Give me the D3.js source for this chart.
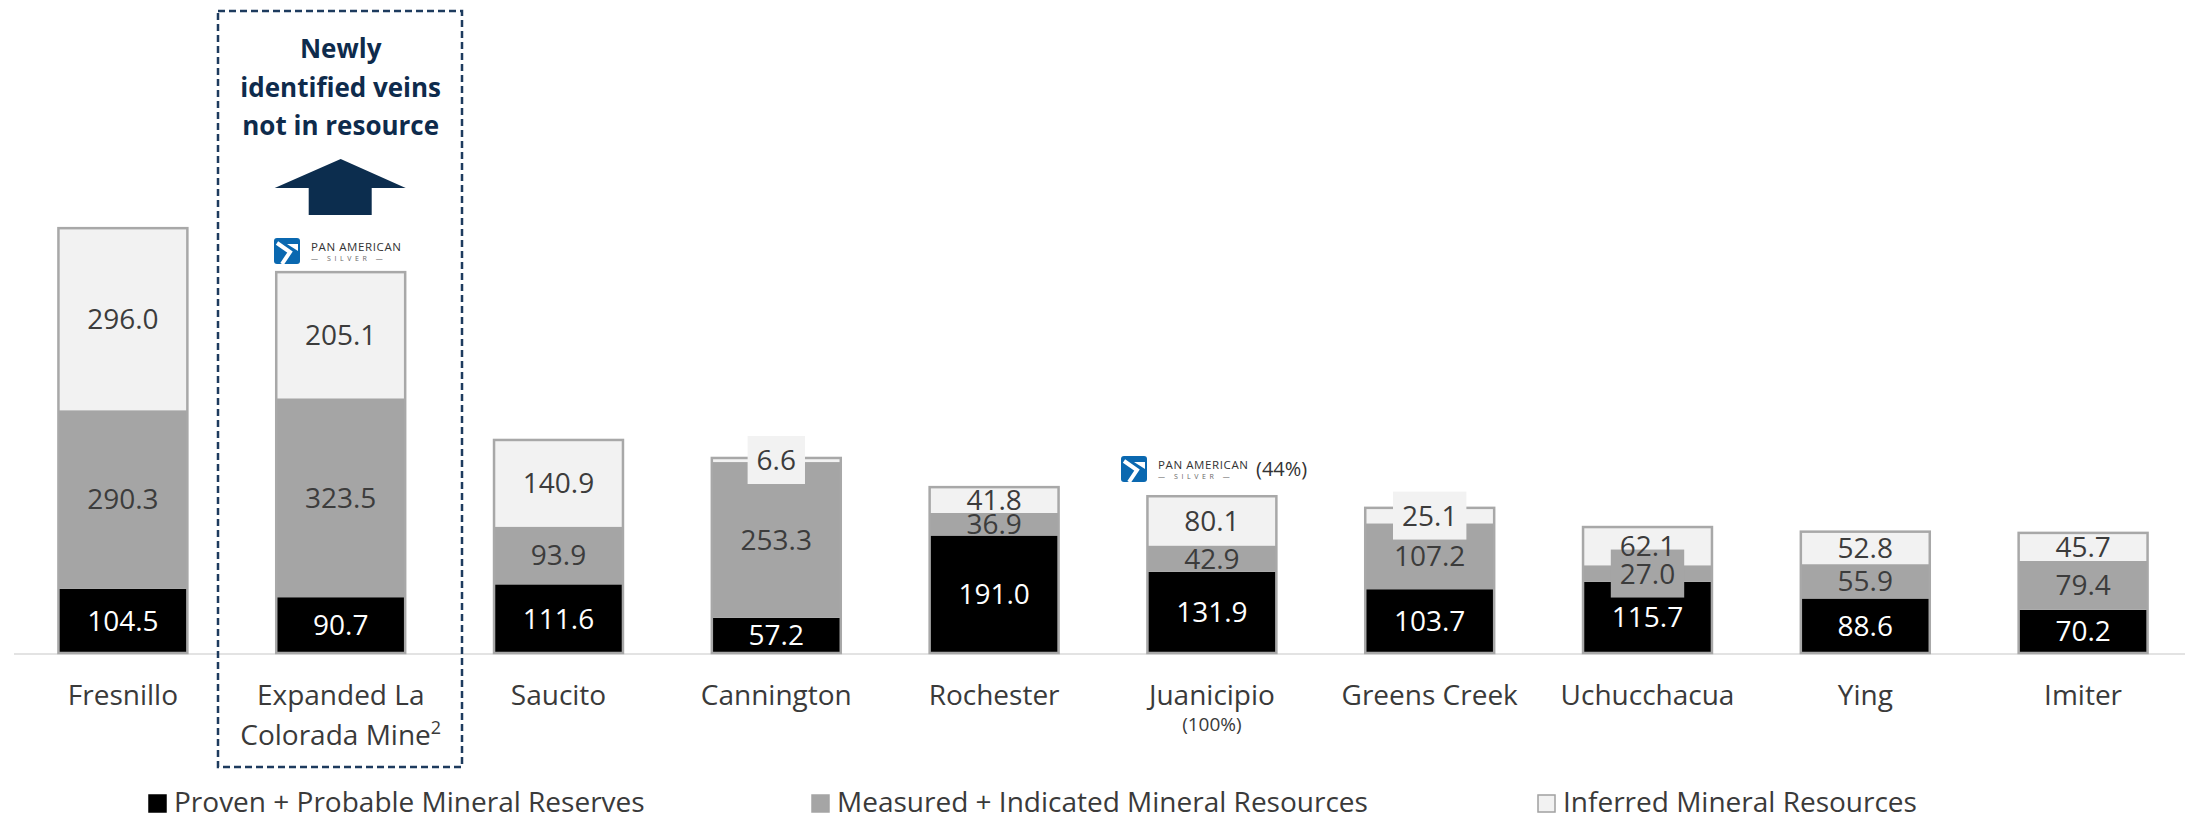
<!DOCTYPE html>
<html>
<head>
<meta charset="utf-8">
<script src="https://cdn.jsdelivr.net/npm/d3@7/dist/d3.min.js"></script>
<style>
  html, body { margin: 0; padding: 0; background: #ffffff; }
  svg { display: block; }
  text { font-family: "Open Sans", "Noto Sans", sans-serif; }
</style>
</head>
<body>
<svg id="chart" width="2196" height="821"></svg>
<script>
// ---- data ----
const categories = ["Fresnillo", "Expanded La Colorada Mine", "Saucito", "Cannington", "Rochester",
  "Juanicipio", "Greens Creek", "Uchucchacua", "Ying", "Imiter"];
const provenProbable = [104.5, 90.7, 111.6, 57.2, 191.0, 131.9, 103.7, 115.7, 88.6, 70.2];
const measuredIndicated = [290.3, 323.5, 93.9, 253.3, 36.9, 42.9, 107.2, 27.0, 55.9, 79.4];
const inferred = [296.0, 205.1, 140.9, 6.6, 41.8, 80.1, 25.1, 62.1, 52.8, 45.7];
const seriesNames = ["Proven + Probable Mineral Reserves", "Measured + Indicated Mineral Resources", "Inferred Mineral Resources"];
const calloutLines = ["Newly", "identified veins", "not in resource"];

// ---- setup ----
const svg = d3.select("#chart");
const baseY = 653;
const colors = ["#000000", "#a5a5a5", "#f2f2f2"];
const labelColors = ["#ffffff", "#3c3c3c", "#3c3c3c"];

const x = d3.scaleBand().domain(categories).range([14, 2192]).paddingInner(0.408).paddingOuter(0.204);
const y = d3.scaleLinear().domain([0, 700]).range([baseY, baseY - 430.5]);

const stackData = categories.map((c, i) => ({ cat: c, s0: provenProbable[i], s1: measuredIndicated[i], s2: inferred[i] }));
const stack = d3.stack().keys(["s0", "s1", "s2"])(stackData);

// axis baseline
svg.append("line").attr("x1", 14).attr("x2", 2185).attr("y1", baseY + 1).attr("y2", baseY + 1)
  .attr("stroke", "#e3e3e3").attr("stroke-width", 2);

// segments
const gBars = svg.append("g");
stack.forEach((layer, k) => {
  gBars.selectAll(null).data(layer).enter().append("rect")
    .attr("x", d => x(d.data.cat))
    .attr("width", x.bandwidth())
    .attr("y", d => y(d[1]))
    .attr("height", d => y(d[0]) - y(d[1]))
    .attr("fill", colors[k]);
});
// outlines around each full bar
gBars.selectAll(null).data(stackData).enter().append("rect")
  .attr("x", d => x(d.cat))
  .attr("width", x.bandwidth())
  .attr("y", d => y(d.s0 + d.s1 + d.s2))
  .attr("height", d => baseY - y(d.s0 + d.s1 + d.s2))
  .attr("fill", "none").attr("stroke", "#a8a8a8").attr("stroke-width", 2.5);

// value labels
const gLab = svg.append("g");
stack.forEach((layer, k) => {
  layer.forEach(d => {
    const v = d[1] - d[0];
    const cx = x(d.data.cat) + x.bandwidth() / 2;
    const cy = (y(d[0]) + y(d[1])) / 2;
    const g = gLab.append("g");
    const t = g.append("text").attr("x", cx).attr("y", cy + 10)
      .attr("text-anchor", "middle").attr("font-size", 28)
      .attr("fill", labelColors[k]).text(v.toFixed(1));
    if (v < 30) {
      const w = t.node().getComputedTextLength() + 18;
      g.insert("rect", "text").attr("x", cx - w / 2).attr("y", cy - 24)
        .attr("width", w).attr("height", 48).attr("fill", colors[k]);
    }
  });
});

// category labels
const gCat = svg.append("g");
categories.forEach(c => {
  const cx = x(c) + x.bandwidth() / 2;
  if (c === "Expanded La Colorada Mine") {
    gCat.append("text").attr("x", cx).attr("y", 705).attr("text-anchor", "middle")
      .attr("font-size", 28).attr("fill", "#3a3a3a").text("Expanded La");
    const t2 = gCat.append("text").attr("x", cx).attr("y", 745).attr("text-anchor", "middle")
      .attr("font-size", 28).attr("fill", "#3a3a3a");
    t2.append("tspan").text("Colorada Mine");
    t2.append("tspan").attr("font-size", 18).attr("dy", -11).text("2");
  } else {
    gCat.append("text").attr("x", cx).attr("y", 705).attr("text-anchor", "middle")
      .attr("font-size", 28).attr("fill", "#3a3a3a").text(c);
    if (c === "Juanicipio") {
      gCat.append("text").attr("x", cx).attr("y", 731).attr("text-anchor", "middle")
        .attr("font-size", 19).attr("fill", "#3a3a3a").text("(100%)");
    }
  }
});

// dashed callout box
const colX = x("Expanded La Colorada Mine") + x.bandwidth() / 2;
svg.append("rect").attr("x", 218).attr("y", 11).attr("width", 244).attr("height", 756)
  .attr("fill", "none").attr("stroke", "#1d3b5e").attr("stroke-width", 2.5)
  .attr("stroke-dasharray", "7,4");
calloutLines.forEach((l, i) => {
  svg.append("text").attr("x", colX).attr("y", 58 + i * 38.5).attr("text-anchor", "middle")
    .attr("font-size", 26).attr("font-weight", 700).attr("fill", "#0e2b4c").text(l);
});
// arrow
svg.append("path")
  .attr("d", `M${colX},159 L${colX + 65},188 L${colX + 31},188 L${colX + 31},215 L${colX - 32},215 L${colX - 32},188 L${colX - 66},188 Z`)
  .attr("fill", "#0c2d4e");

// logos
function drawLogo(x0, y0) {
  const g = svg.append("g").attr("transform", `translate(${x0},${y0})`);
  g.append("rect").attr("width", 26).attr("height", 26).attr("rx", 3).attr("fill", "#0a68b0");
  g.append("path").attr("d", "M3,5 L16,14 L8,26").attr("fill", "none")
    .attr("stroke", "#ffffff").attr("stroke-width", 4).attr("stroke-linejoin", "miter");
  g.append("path").attr("d", "M13,6 L24,6 L24,13 Z").attr("fill", "#ffffff");
  g.append("text").attr("x", 37).attr("y", 13).attr("font-size", 11.5).attr("letter-spacing", 0.6)
    .attr("fill", "#333333").text("PAN AMERICAN");
  g.append("text").attr("x", 37).attr("y", 23).attr("font-size", 7).attr("letter-spacing", 3.6)
    .attr("fill", "#666666").text("— SILVER —");
  return g;
}
drawLogo(274, 238);
drawLogo(1121, 456);
svg.append("text").attr("x", 1256).attr("y", 476).attr("font-size", 20).attr("fill", "#333333").text("(44%)");

// legend
const legendX = [149, 812, 1538];
seriesNames.forEach((n, i) => {
  svg.append("rect").attr("x", legendX[i]).attr("y", 795).attr("width", 17).attr("height", 17)
    .attr("fill", colors[i]).attr("stroke", i === 2 ? "#a0a0a0" : colors[i]).attr("stroke-width", 1.5);
  svg.append("text").attr("x", legendX[i] + 25).attr("y", 812).attr("font-size", 28)
    .attr("fill", "#3a3a3a").text(n);
});
</script>
</body>
</html>
